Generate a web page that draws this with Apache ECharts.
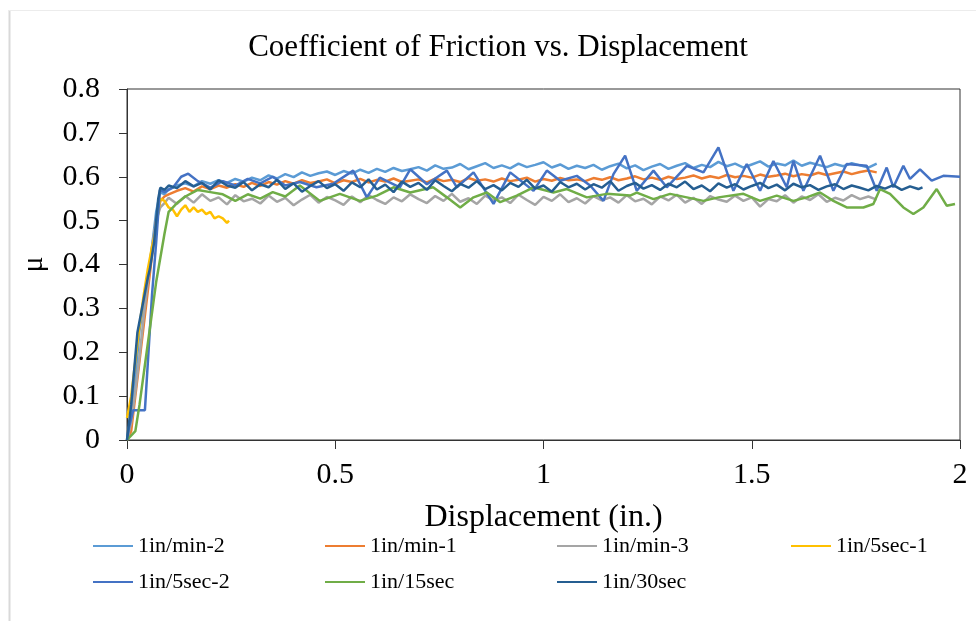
<!DOCTYPE html>
<html>
<head>
<meta charset="utf-8">
<script src="https://cdn.jsdelivr.net/npm/echarts@6/dist/echarts.min.js"></script>
<style>
html,body{margin:0;padding:0;background:#fff;}
#chart{width:976px;height:621px;}
</style>
</head>
<body>
<div id="chart"></div>
<script>
const seriesNames = ['1in/min-2','1in/min-1','1in/min-3','1in/5sec-1','1in/5sec-2','1in/15sec','1in/30sec'];
const xTicks = [0, 0.5, 1, 1.5, 2];
const yTicks = [0, 0.1, 0.2, 0.3, 0.4, 0.5, 0.6, 0.7, 0.8];

// shared displacement grid for the densely sampled runs
const xGrid = [
0.10,0.12,0.14,0.16,0.18,0.20,0.22,0.24,0.26,0.28,
0.30,0.32,0.34,0.36,0.38,0.40,0.42,0.44,0.46,0.48,
0.50,0.52,0.54,0.56,0.58,0.60,0.62,0.64,0.66,0.68,
0.70,0.72,0.74,0.76,0.78,0.80,0.82,0.84,0.86,0.88,
0.90,0.92,0.94,0.96,0.98,1.00,1.02,1.04,1.06,1.08,
1.10,1.12,1.14,1.16,1.18,1.20,1.22,1.24,1.26,1.28,
1.30,1.32,1.34,1.36,1.38,1.40,1.42,1.44,1.46,1.48,
1.50,1.52,1.54,1.56,1.58,1.60,1.62,1.64,1.66,1.68,
1.70,1.72,1.74,1.76,1.78,1.80];

// 1in/min-2
const riseMin2 = [[0,0],[0.01,0.06],[0.02,0.14],[0.03,0.25],[0.045,0.34],[0.06,0.44],[0.07,0.52],[0.08,0.565],[0.09,0.56]];
const yMin2 = [
0.572,0.580,0.585,0.578,0.590,0.584,0.592,0.586,0.595,0.589,
0.598,0.592,0.603,0.596,0.606,0.599,0.610,0.602,0.608,0.612,
0.604,0.613,0.607,0.616,0.609,0.618,0.611,0.620,0.613,0.617,
0.622,0.614,0.626,0.618,0.621,0.629,0.617,0.624,0.631,0.620,
0.626,0.619,0.630,0.622,0.627,0.633,0.621,0.628,0.618,0.625,
0.620,0.627,0.616,0.624,0.630,0.619,0.626,0.615,0.623,0.629,
0.618,0.625,0.631,0.620,0.627,0.622,0.634,0.624,0.630,0.621,
0.628,0.635,0.623,0.630,0.626,0.637,0.625,0.632,0.627,0.622,
0.629,0.624,0.631,0.626,0.621,0.630];

// 1in/min-1
const riseMin1 = [[0,0],[0.01,0.02],[0.02,0.10],[0.03,0.18],[0.04,0.26],[0.05,0.34],[0.06,0.42],[0.07,0.50],[0.08,0.545],[0.09,0.555]];
const yMin1 = [
0.560,0.568,0.574,0.566,0.578,0.572,0.580,0.575,0.583,0.577,
0.586,0.579,0.588,0.582,0.590,0.584,0.592,0.586,0.589,0.594,
0.585,0.592,0.588,0.595,0.587,0.593,0.589,0.596,0.588,0.591,
0.594,0.587,0.596,0.590,0.593,0.588,0.597,0.591,0.594,0.589,
0.596,0.590,0.593,0.598,0.589,0.595,0.591,0.597,0.592,0.594,
0.590,0.597,0.593,0.599,0.592,0.596,0.601,0.594,0.598,0.593,
0.600,0.595,0.598,0.603,0.596,0.601,0.597,0.604,0.599,0.602,
0.598,0.605,0.600,0.603,0.607,0.601,0.606,0.603,0.609,0.604,
0.608,0.612,0.606,0.611,0.614,0.610];

// 1in/min-3
const riseMin3 = [[0,0],[0.01,0.04],[0.02,0.11],[0.03,0.19],[0.04,0.28],[0.05,0.36],[0.06,0.44],[0.07,0.50],[0.08,0.53],[0.09,0.54]];
const yMin3 = [
0.552,0.538,0.556,0.541,0.560,0.545,0.553,0.537,0.558,0.544,
0.550,0.539,0.557,0.543,0.552,0.535,0.548,0.559,0.541,0.554,
0.546,0.536,0.555,0.542,0.558,0.547,0.538,0.553,0.544,0.560,
0.549,0.540,0.556,0.545,0.561,0.543,0.551,0.538,0.557,0.546,
0.553,0.540,0.559,0.547,0.536,0.554,0.545,0.560,0.542,0.551,
0.539,0.556,0.546,0.553,0.541,0.558,0.544,0.550,0.537,0.555,
0.546,0.559,0.541,0.552,0.538,0.556,0.548,0.543,0.557,0.545,
0.553,0.532,0.549,0.544,0.558,0.541,0.555,0.547,0.560,0.543,
0.552,0.546,0.558,0.549,0.555,0.548];

// 1in/5sec-1 (short run)
const pts5sec1 = [[0,0.05],[0.01,0.10],[0.02,0.18],[0.03,0.26],[0.04,0.33],[0.05,0.39],[0.06,0.44],[0.07,0.48],[0.075,0.52],[0.08,0.55],[0.09,0.545],[0.10,0.53],[0.11,0.525],[0.12,0.51],[0.13,0.525],[0.14,0.535],[0.15,0.52],[0.16,0.53],[0.17,0.52],[0.18,0.525],[0.19,0.515],[0.20,0.52],[0.21,0.505],[0.22,0.51],[0.23,0.505],[0.24,0.495],[0.245,0.50]];

// 1in/5sec-2 (sparse, zig-zag)
const pts5sec2 = [[0,0],[0.005,0.03],[0.015,0.068],[0.043,0.068],[0.06,0.33],[0.07,0.45],[0.079,0.57],[0.09,0.565],[0.11,0.575],[0.13,0.60],[0.147,0.607],[0.17,0.59],[0.20,0.575],[0.23,0.59],[0.26,0.58],[0.29,0.595],[0.32,0.585],[0.35,0.60],[0.38,0.58],
[0.415,0.588],[0.455,0.576],[0.495,0.584],[0.543,0.614],[0.576,0.553],[0.607,0.598],[0.655,0.576],[0.680,0.617],[0.720,0.583],[0.768,0.614],[0.792,0.576],[0.832,0.610],[0.880,0.538],[0.920,0.610],[0.976,0.568],[1.008,0.614],[1.040,0.591],[1.080,0.602],[1.112,0.580],[1.144,0.545],[1.168,0.606],[1.196,0.648],
[1.224,0.568],[1.264,0.614],[1.296,0.576],[1.344,0.625],[1.384,0.610],[1.420,0.667],[1.456,0.568],[1.488,0.629],[1.520,0.568],[1.552,0.636],[1.584,0.576],[1.600,0.636],[1.624,0.568],[1.664,0.648],[1.696,0.568],[1.728,0.629],[1.776,0.625],[1.800,0.568],[1.824,0.621],[1.840,0.576],[1.864,0.625],[1.880,0.595],[1.904,0.617],[1.932,0.591],[1.960,0.602],[2.000,0.600]];

// 1in/15sec
const pts15sec = [[0,0],[0.02,0.02],[0.03,0.08],[0.05,0.22],[0.07,0.36],[0.09,0.47],[0.10,0.52],[0.12,0.54],[0.14,0.555],[0.17,0.57],[0.20,0.565],[0.23,0.56],[0.26,0.545],[0.29,0.56],[0.32,0.55],[0.35,0.565],[0.38,0.555],
[0.415,0.580],[0.463,0.545],[0.511,0.561],[0.559,0.545],[0.600,0.557],[0.640,0.576],[0.680,0.564],[0.735,0.576],[0.768,0.553],[0.800,0.530],[0.832,0.553],[0.864,0.564],[0.896,0.542],[0.936,0.557],[0.976,0.576],[1.024,0.564],[1.056,0.572],[1.104,0.553],[1.152,0.561],[1.208,0.557],
[1.224,0.564],[1.264,0.549],[1.304,0.561],[1.344,0.553],[1.384,0.545],[1.420,0.553],[1.480,0.561],[1.520,0.545],[1.560,0.557],[1.600,0.545],[1.632,0.553],[1.664,0.564],[1.696,0.545],[1.728,0.530],[1.768,0.530],[1.792,0.538],[1.808,0.572],[1.832,0.561],[1.864,0.530],[1.888,0.515],[1.912,0.530],[1.944,0.572],[1.968,0.534],[1.988,0.538]];

// 1in/30sec
const rise30sec = [[0,0],[0.01,0.08],[0.02,0.19],[0.025,0.245],[0.04,0.32],[0.05,0.37],[0.055,0.39],[0.065,0.45],[0.075,0.55],[0.08,0.575],[0.09,0.57]];
const y30sec = [
0.580,0.574,0.590,0.578,0.586,0.571,0.592,0.580,0.575,0.588,
0.569,0.583,0.576,0.593,0.572,0.585,0.566,0.579,0.590,0.574,
0.583,0.568,0.587,0.576,0.594,0.571,0.582,0.565,0.589,0.577,
0.586,0.570,0.592,0.579,0.567,0.584,0.575,0.590,0.572,0.581,
0.569,0.586,0.577,0.593,0.573,0.580,0.566,0.588,0.576,0.584,
0.571,0.583,0.575,0.590,0.568,0.579,0.586,0.573,0.581,0.570,
0.584,0.576,0.589,0.572,0.580,0.567,0.585,0.575,0.583,0.571,
0.579,0.586,0.574,0.582,0.569,0.584,0.576,0.581,0.570,0.578,
0.583,0.572,0.580,0.575,0.569,0.579];
const tail30sec = [[1.82,0.573],[1.84,0.581],[1.86,0.570],[1.88,0.578],[1.90,0.572],[1.91,0.576]];

const colors = ['#5B9BD5','#ED7D31','#A5A5A5','#FFC000','#4472C4','#70AD47','#255E91'];

function onGrid(rise, ys, tail) {
  return rise.concat(xGrid.map((x, i) => [x, ys[i]]), tail || []);
}
const seriesData = [
  onGrid(riseMin2, yMin2),
  onGrid(riseMin1, yMin1),
  onGrid(riseMin3, yMin3),
  pts5sec1,
  pts5sec2,
  pts15sec,
  onGrid(rise30sec, y30sec, tail30sec)
];

const FONT = '"Liberation Serif", "Times New Roman", serif';
// legend slot positions (4 columns, 2 rows)
const legendLeft = [93, 325, 557, 791, 93, 325, 557];
const legendTop = [535, 535, 535, 535, 571, 571, 571];

const chart = echarts.init(document.getElementById('chart'), null, {renderer: 'canvas'});
chart.setOption({
  animation: false,
  backgroundColor: '#fff',
  color: colors,
  title: {
    text: 'Coefficient of Friction vs. Displacement',
    left: 493, top: 27, textAlign: 'center',
    textStyle: {fontFamily: FONT, fontSize: 31, fontWeight: 'normal', color: '#000'}
  },
  grid: {left: 127, right: 16, top: 89, bottom: 181, show: true, borderColor: '#333', borderWidth: 1},
  legend: seriesNames.map((n, i) => ({
    data: [n],
    left: legendLeft[i], top: legendTop[i], padding: 0,
    icon: 'rect', itemWidth: 40, itemHeight: 2, itemGap: 0,
    textStyle: {fontFamily: FONT, fontSize: 22, color: '#000'}
  })),
  xAxis: {
    type: 'value', min: 0, max: 2, interval: 0.5,
    name: 'Displacement (in.)', nameLocation: 'middle', nameGap: 62,
    nameTextStyle: {fontFamily: FONT, fontSize: 32, color: '#000'},
    axisLine: {lineStyle: {color: '#333', width: 1}},
    axisTick: {show: true, length: 9, lineStyle: {color: '#333'}},
    axisLabel: {fontFamily: FONT, fontSize: 30, color: '#000', margin: 20,
      formatter: v => xTicks.indexOf(v) >= 0 ? String(v) : ''},
    splitLine: {show: false}
  },
  yAxis: {
    type: 'value', min: 0, max: 0.8, interval: 0.1,
    name: 'μ', nameLocation: 'middle', nameRotate: 90, nameGap: 78,
    nameTextStyle: {fontFamily: FONT, fontSize: 30, color: '#000'},
    axisLine: {show: true, lineStyle: {color: '#333', width: 1}},
    axisTick: {show: true, length: 8, lineStyle: {color: '#333'}},
    axisLabel: {fontFamily: FONT, fontSize: 30, color: '#000', margin: 27,
      formatter: v => { const t = yTicks.find(k => Math.abs(k - v) < 1e-9); return t === undefined ? '' : (t === 0 ? '0' : t.toFixed(1)); }},
    splitLine: {show: false}
  },
  graphic: [
    {type: 'line', shape: {x1: 9.5, y1: 10, x2: 9.5, y2: 621}, style: {stroke: '#d9d9d9', lineWidth: 2}, silent: true},
    {type: 'line', shape: {x1: 9, y1: 10.5, x2: 976, y2: 10.5}, style: {stroke: '#ececec', lineWidth: 1}, silent: true}
  ],
  series: seriesNames.map((n, i) => ({
    name: n, type: 'line', data: seriesData[i],
    showSymbol: false, symbol: 'none', smooth: false,
    lineStyle: {width: 2.5, color: colors[i]},
    itemStyle: {color: colors[i]}
  }))
});
</script>
</body>
</html>
